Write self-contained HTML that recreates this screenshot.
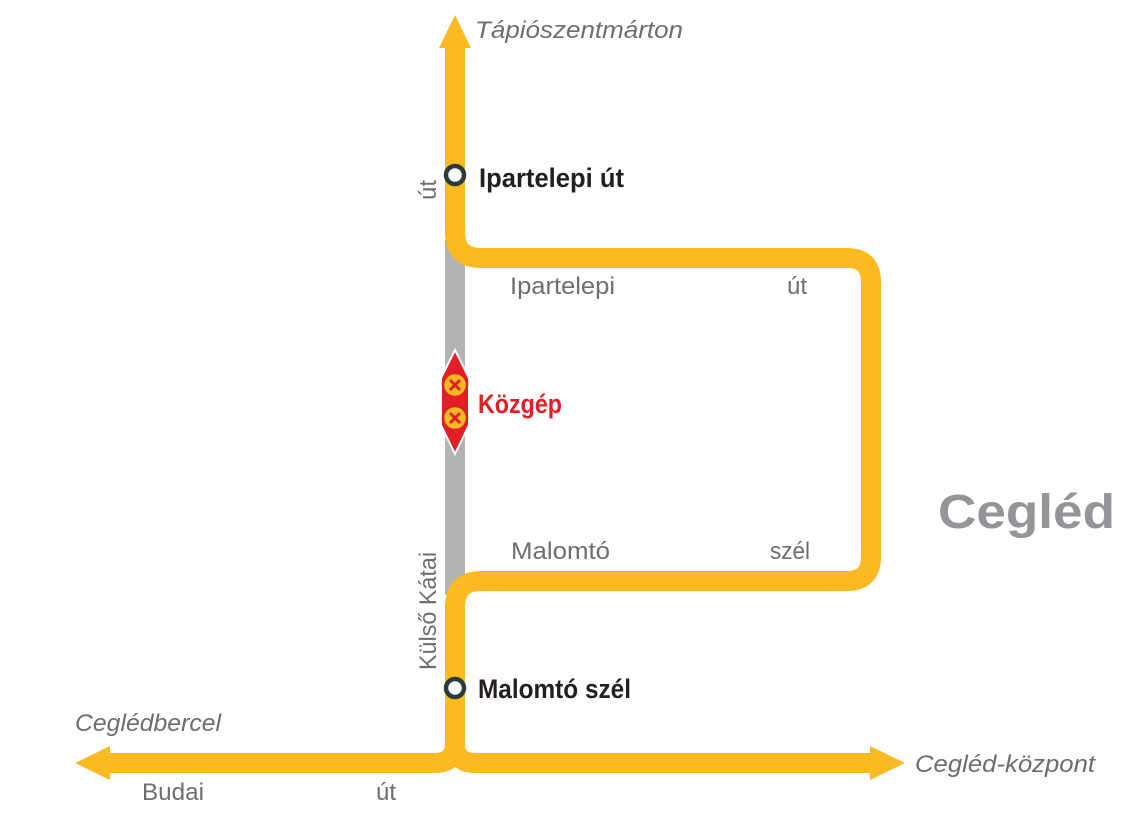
<!DOCTYPE html>
<html><head><meta charset="utf-8"><style>
html,body{margin:0;padding:0;background:#fff;width:1133px;height:825px;overflow:hidden}
svg{display:block}
.g{font-family:"Liberation Sans",sans-serif;fill:#6d6e70;font-size:24px}
.i{font-style:italic}
.b{font-family:"Liberation Sans Narrow","Liberation Sans",sans-serif;font-weight:bold;font-size:27px;fill:#231f20}
</style></head><body>
<svg width="1133" height="825" viewBox="0 0 1133 825">
<rect x="445" y="240" width="20" height="355" fill="#b3b3b3"/>
<g fill="none" stroke="#fbba21" stroke-width="20">
<path d="M455,46 V232 Q455,258 481,258 H847 Q871,258 871,282 V557 Q871,581 847,581 H481 Q455,581 455,607 V743 Q455,763 435,763 H108"/>
<path d="M455,743 Q455,763 475,763 H874"/>
</g>
<polygon points="455,15 471,48 439,48" fill="#fbba21"/>
<polygon points="75,763 110,746 110,780" fill="#fbba21"/>
<polygon points="905,763 870,746 870,780" fill="#fbba21"/>
<circle cx="455" cy="175" r="9" fill="#fff" stroke="#2b3b3b" stroke-width="4.5"/>
<circle cx="455" cy="688" r="9" fill="#fff" stroke="#2b3b3b" stroke-width="4.5"/>
<polygon points="455,350 469,378 469,425 455,454 441,425 441,378" fill="#e31e24" stroke="#fff" stroke-width="2"/>
<g stroke="#e31e24" stroke-width="2.5">
<circle cx="455" cy="385" r="12" fill="#fbba21"/>
<circle cx="455" cy="418" r="12" fill="#fbba21"/>
<path d="M450,380 L460,390 M460,380 L450,390 M450,413 L460,423 M460,413 L450,423" stroke-width="3"/>
</g>
<text class="g i" x="475" y="38" textLength="208" lengthAdjust="spacingAndGlyphs">Tápiószentmárton</text>
<text class="b" x="479" y="187" textLength="145" lengthAdjust="spacingAndGlyphs">Ipartelepi út</text>
<text class="b" x="478" y="698" textLength="153" lengthAdjust="spacingAndGlyphs">Malomtó szél</text>
<text class="b" x="478" y="413" textLength="84" lengthAdjust="spacingAndGlyphs" style="fill:#e31e24">Közgép</text>
<text x="938" y="528" font-family="Liberation Sans,sans-serif" font-weight="bold" font-size="48" fill="#939598" textLength="177" lengthAdjust="spacingAndGlyphs">Cegléd</text>
<text class="g" x="510" y="294" textLength="105" lengthAdjust="spacingAndGlyphs">Ipartelepi</text>
<text class="g" x="787" y="294">út</text>
<text class="g" x="511" y="559" textLength="99" lengthAdjust="spacingAndGlyphs">Malomtó</text>
<text class="g" x="770" y="559" textLength="40" lengthAdjust="spacingAndGlyphs">szél</text>
<text class="g" x="142" y="800" textLength="62" lengthAdjust="spacingAndGlyphs">Budai</text>
<text class="g" x="376" y="800">út</text>
<text class="g i" x="75" y="731" textLength="146" lengthAdjust="spacingAndGlyphs">Ceglédbercel</text>
<text class="g i" x="915" y="772" textLength="180" lengthAdjust="spacingAndGlyphs">Cegléd-központ</text>
<text class="g" transform="translate(436,200) rotate(-90)">út</text>
<text class="g" transform="translate(436,670) rotate(-90)" textLength="118" lengthAdjust="spacingAndGlyphs">Külső Kátai</text>
</svg>
</body></html>
